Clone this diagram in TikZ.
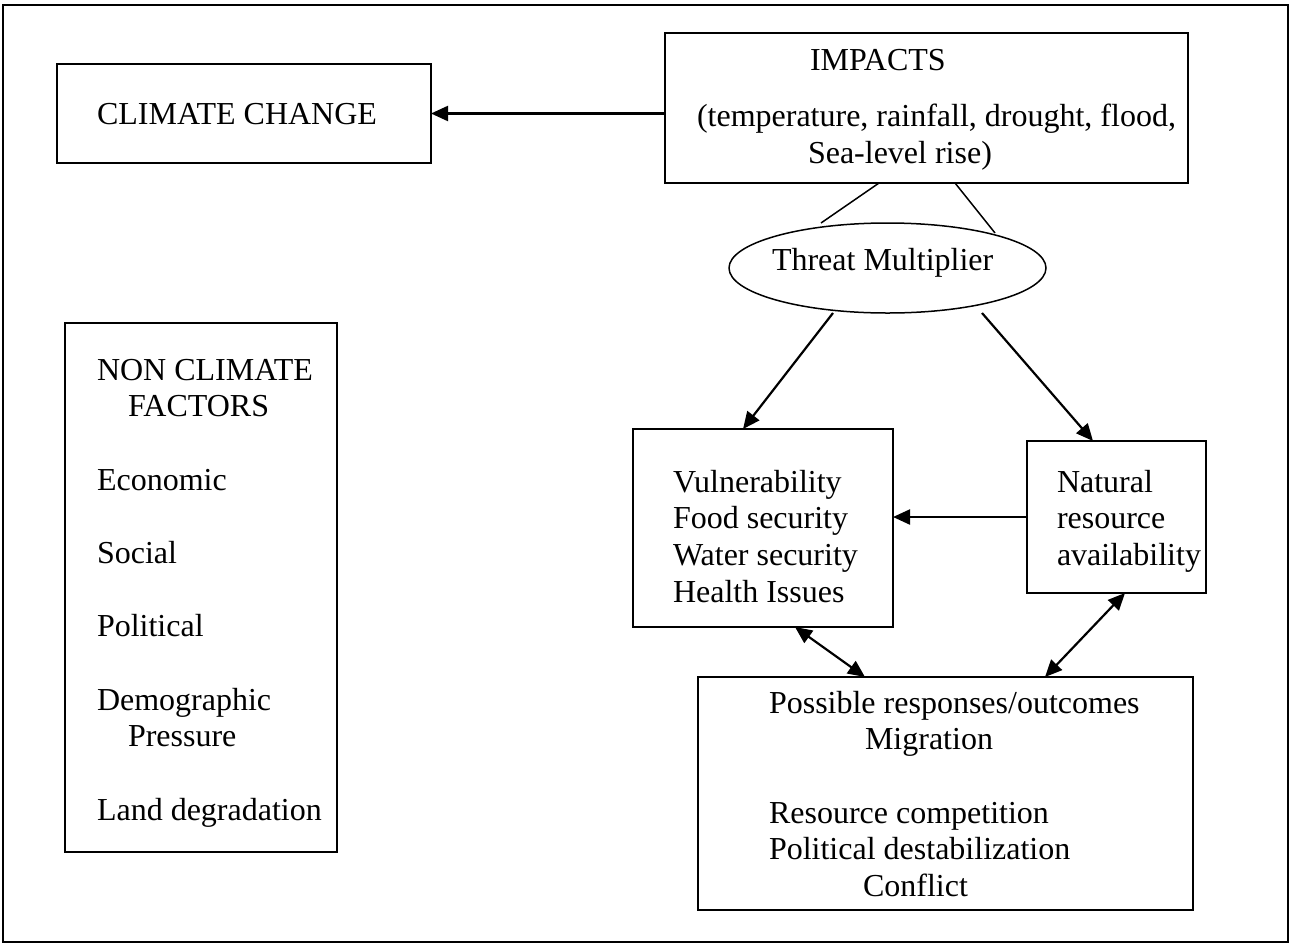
\documentclass[tikz,border=0pt]{standalone}
\usepackage{fontspec}
\setmainfont{Liberation Serif}
\usetikzlibrary{shapes.geometric,arrows.meta}
\begin{document}
\begin{tikzpicture}[x=1pt,y=-1pt,
  box/.style={draw, line width=2.2pt, rectangle, inner sep=0pt, outer sep=0pt},
  oval/.style={draw, line width=1.5pt, ellipse, inner sep=0pt, outer sep=0pt},
  txt/.style={anchor=base west, inner sep=0pt, outer sep=0pt, font=\fontsize{32}{36.7}\selectfont},
  thin/.style={line width=1.5pt},
  arr/.style={line width=2.2pt, -{Triangle[length=17pt,width=15pt]}},
  darr/.style={line width=2.2pt, {Triangle[length=17pt,width=15pt]}-{Triangle[length=17pt,width=15pt]}}
]
\useasboundingbox (0,0) rectangle (1289,943);
\node[box, minimum width=1285, minimum height=937] (frame) at (645.5,473.5) {};

% boxes
\node[box, minimum width=374, minimum height=99] (cc) at (244,113.5) {};
\node[box, minimum width=523, minimum height=150] (imp) at (926.5,108) {};
\node[oval, minimum width=317, minimum height=90] (tm) at (887.5,268) {};
\node[box, minimum width=272, minimum height=529] (ncf) at (201,587.5) {};
\node[box, minimum width=260, minimum height=198] (vul) at (763,528) {};
\node[box, minimum width=179, minimum height=152] (nat) at (1116.5,517) {};
\node[box, minimum width=495, minimum height=233] (pos) at (945.5,793.5) {};

% texts
\node[txt] (tcc) at (97,124) {CLIMATE CHANGE};
\node[txt] (ti1) at (810,70) {IMPACTS};
\node[txt] (ti2) at (697,126) {(temperature, rainfall, drought, flood,};
\node[txt] (ti3) at (808,163) {Sea-level rise)};
\node[txt] (ttm) at (772,270) {Threat Multiplier};

\node[txt] (tn1) at (97,380) {NON CLIMATE};
\node[txt] (tn2) at (128,416.7) {FACTORS};
\node[txt] (tn3) at (97,490) {Economic};
\node[txt] (tn4) at (97,563.4) {Social};
\node[txt] (tn5) at (97,636.8) {Political};
\node[txt] (tn6) at (97,710.2) {Demographic};
\node[txt] (tn7) at (128,746.9) {Pressure};
\node[txt] (tn8) at (97,820.3) {Land degradation};

\node[txt] (tv1) at (673,492) {Vulnerability};
\node[txt] (tv2) at (673,528.7) {Food security};
\node[txt] (tv3) at (673,565.4) {Water security};
\node[txt] (tv4) at (673,602.1) {Health Issues};

\node[txt] (tr1) at (1057,492) {Natural};
\node[txt] (tr2) at (1057,528.7) {resource};
\node[txt] (tr3) at (1057,565.4) {availability};

\node[txt] (tp1) at (769,713) {Possible responses/outcomes};
\node[txt] (tp2) at (865,749.7) {Migration};
\node[txt] (tp3) at (769,823) {Resource competition};
\node[txt] (tp4) at (769,859.7) {Political destabilization};
\node[txt] (tp5) at (863,896.4) {Conflict};

% connectors
\draw[arr] (imp.west |- cc.east) -- (cc.east);
\draw[thin] ([xshift=214]imp.south west) -- ([xshift=-66.5]tm.north);
\draw[thin] ([xshift=290]imp.south west) -- ([xshift=107.5,yshift=-10]tm.north);
\draw[arr] ([xshift=-54.5]tm.south) -- ([xshift=110]vul.north west);
\draw[arr] ([xshift=94.5]tm.south) -- ([xshift=66]nat.north west);
\draw[arr] (nat.west) -- (vul.east |- nat.west);
\draw[darr] ([xshift=162]vul.south west) -- ([xshift=167]pos.north west);
\draw[darr] ([xshift=98]nat.south west) -- ([xshift=347]pos.north west);
\end{tikzpicture}
\end{document}
